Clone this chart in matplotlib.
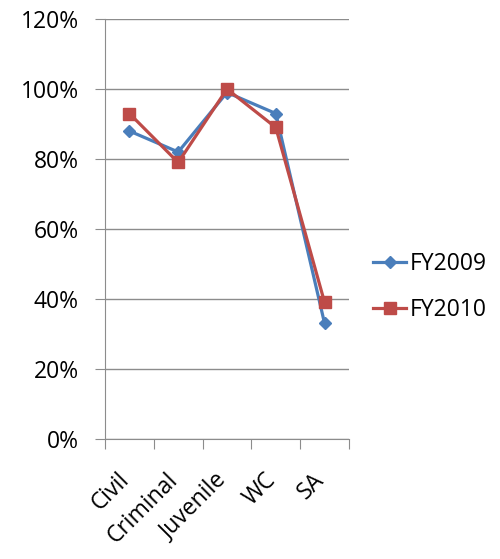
import matplotlib.pyplot as plt
import numpy as np
from matplotlib.ticker import FuncFormatter
from matplotlib.transforms import ScaledTranslation

# values (percent)
categories = ["Civil", "Criminal", "Juvenile", "WC", "SA"]
fy2009 = [88, 82, 99, 93, 33]
fy2010 = [93, 79, 100, 89, 39]

plt.rcParams["font.family"] = ["Open Sans", "DejaVu Sans"]

fig = plt.figure(figsize=(5.0, 5.59), dpi=100)
ax = fig.add_axes([0.21, 0.2147, 0.488, 0.7513])

X = np.arange(len(categories))
ax.plot(X, fy2009, color="#4A7EBB", lw=2.3, marker="D", ms=6.5, label="FY2009")
ax.plot(X, fy2010, color="#BE4B48", lw=2.3, marker="s", ms=8.5, label="FY2010")

ax.set_xlim(-0.5, len(categories) - 0.5)
ax.set_ylim(0, 120)
ax.set_yticks(np.arange(0, 121, 20))
ax.yaxis.set_major_formatter(FuncFormatter(lambda v, p: "%d%%" % v))
ax.grid(axis="y", color="#8c8c8c", lw=1)
ax.set_axisbelow(True)

# category ticks sit between the categories
ax.set_xticks(np.arange(-0.5, len(categories), 1))
ax.set_xticklabels([])
ax.set_xticks(X, minor=True)
ax.set_xticklabels(categories, minor=True, rotation=45, ha="right",
                   rotation_mode="anchor", fontsize=16.5)
ax.tick_params(axis="x", which="minor", length=0, pad=10)
ax.tick_params(axis="x", which="major", length=7, color="#8c8c8c")
ax.tick_params(axis="y", length=7, color="#8c8c8c", labelsize=16.5, pad=12)

# slide the slanted labels down-left along their own direction
shift = ScaledTranslation(-0.12, -0.15, fig.dpi_scale_trans)
for lab in ax.get_xticklabels(minor=True):
    lab.set_transform(lab.get_transform() + shift)

for s in ["top", "right"]:
    ax.spines[s].set_visible(False)
for s in ["left", "bottom"]:
    ax.spines[s].set_color("#8c8c8c")

fig.legend(loc="center left", bbox_to_anchor=(0.746, 0.486), frameon=False,
           fontsize=16.5, handlelength=1.45, handletextpad=0.15,
           labelspacing=0.95, borderpad=0, borderaxespad=0)

plt.savefig("out.png")
